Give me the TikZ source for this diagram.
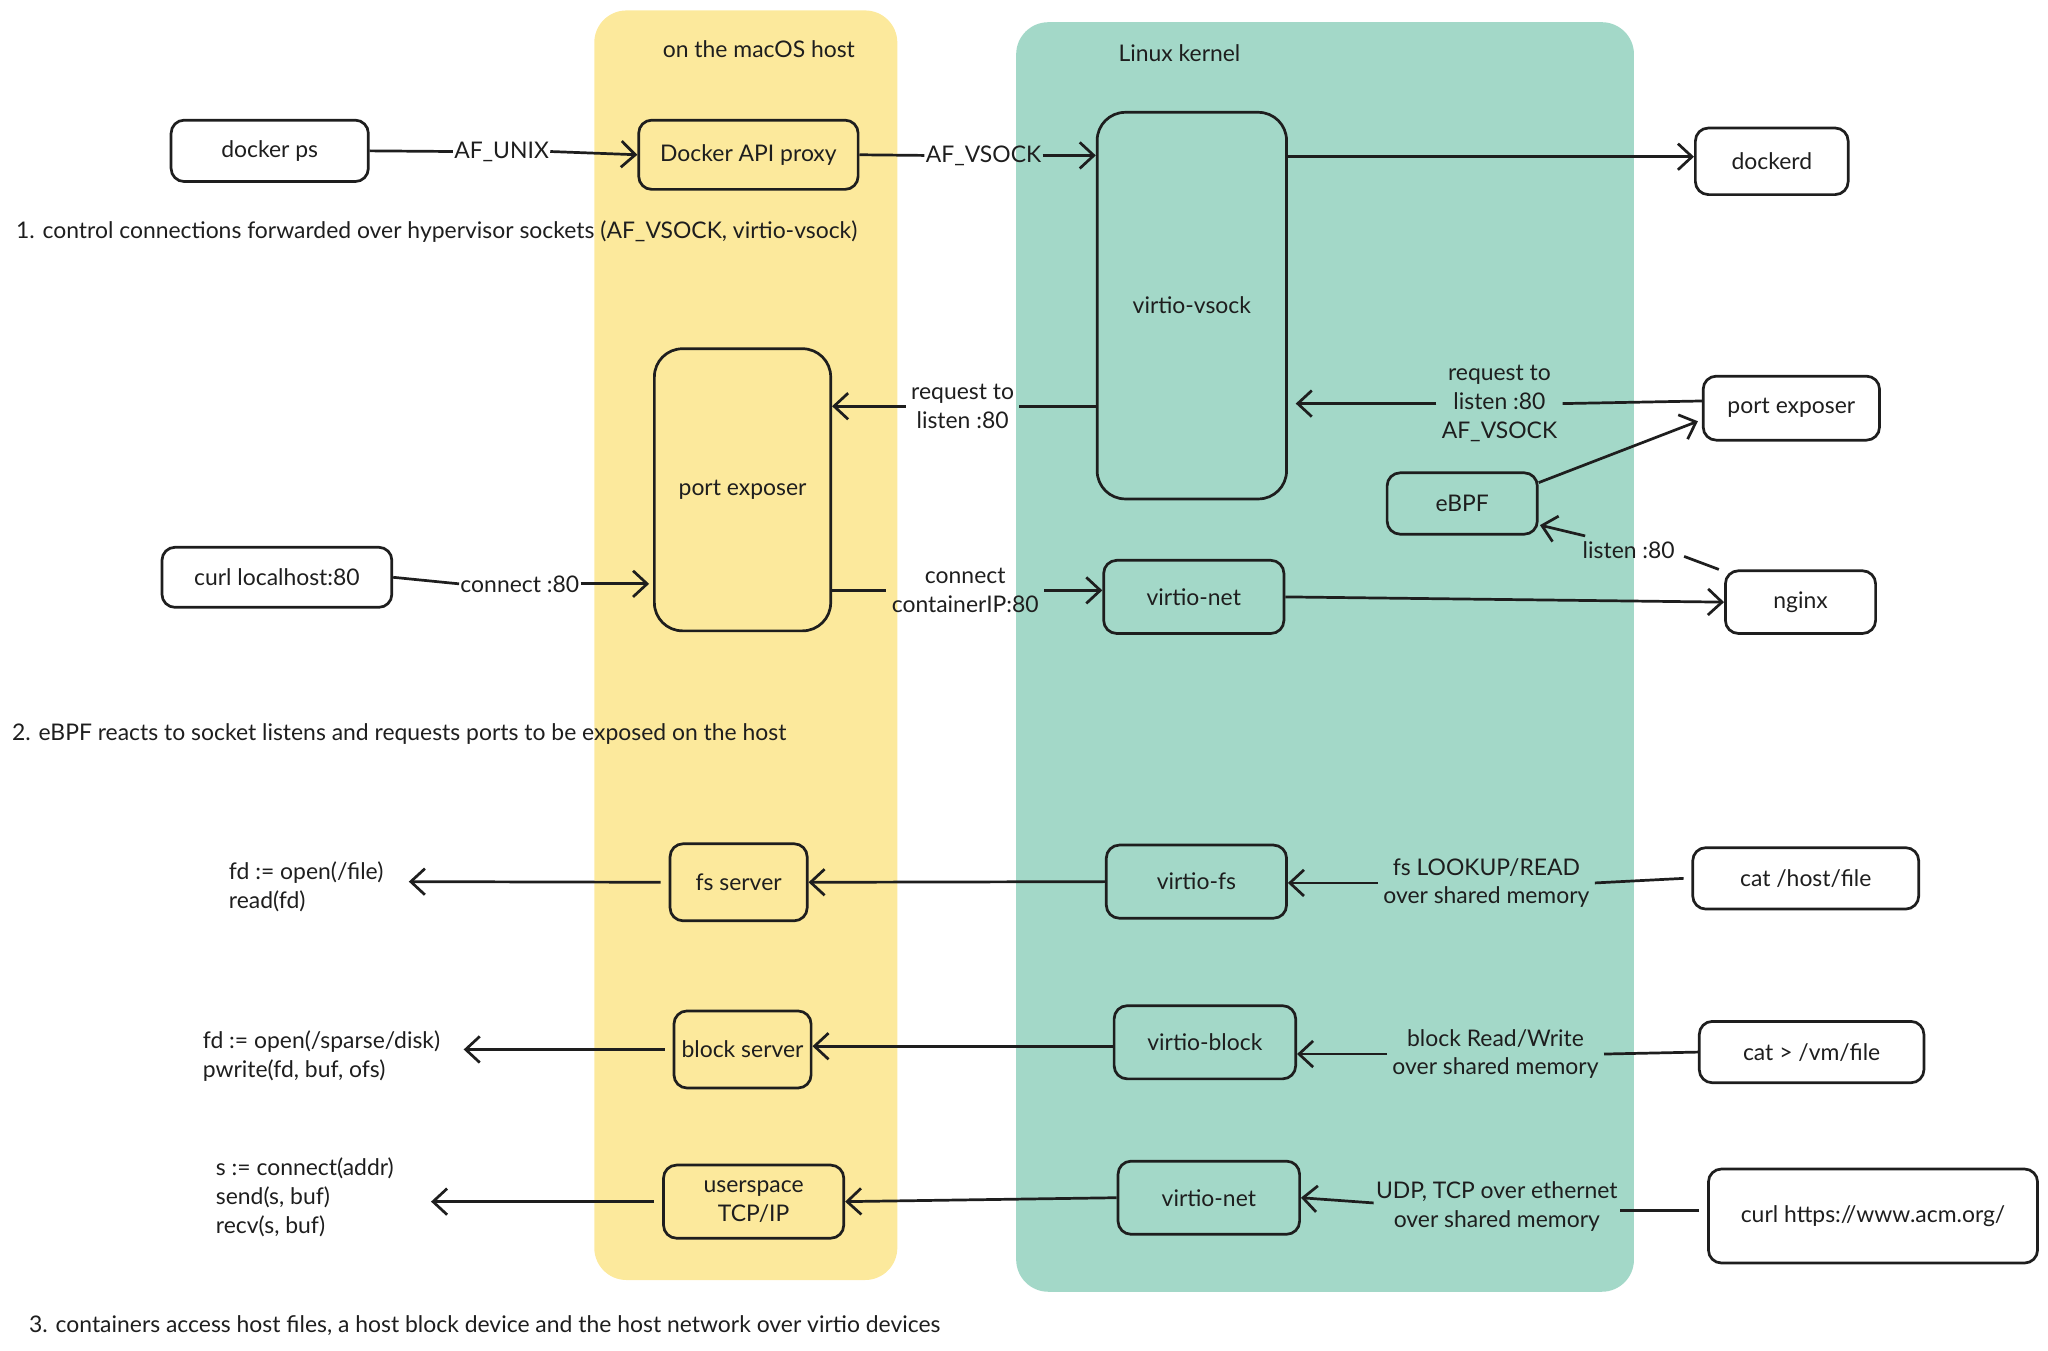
\documentclass[tikz,border=0pt]{standalone}
\usepackage{fontspec}
\setmainfont{Lato}
\usetikzlibrary{arrows.meta,calc}
\definecolor{bandY}{HTML}{FCE99C}
\definecolor{bandT}{HTML}{A3D8C8}
\definecolor{ink}{HTML}{1E1E1E}
\def\U{0.65pt}
\tikzset{
  box/.style={draw=ink, line width=1.35pt, rounded corners=6.5pt, align=center, inner sep=2pt, text=ink},
  bigbox/.style={box, rounded corners=14pt},
  lbl/.style={align=center, inner sep=2.5pt, text=ink},
  txt/.style={align=left, inner sep=0pt, text=ink},
  ln/.style={draw=ink, line width=1.35pt},
  arr/.style={draw=ink, line width=1.35pt, -{Straight Barb[length=7pt,width=13pt,line width=1.35pt]}},
}
\begin{document}
\begin{tikzpicture}[x=0.65pt,y=-0.65pt, font=\fontsize{11.4}{14.3}\selectfont]
\useasboundingbox (0,0) rectangle (1568,1034);
% bands
\fill[bandY, rounded corners=16pt] (455,8) rectangle (687,980);
\fill[bandT, rounded corners=16pt] (778,17) rectangle (1251,989);
\node[lbl] (hostlbl) at (581,38) {on the macOS host};
\node[lbl] (kernlbl) at (903,41) {Linux kernel};

% nodes
\node[box, minimum width=151*\U, minimum height=47*\U] (dps) at (206.5,115.5) {docker ps};
\node[box, fill=bandY, minimum width=168*\U, minimum height=53*\U] (proxy) at (573,118.5) {Docker API proxy};
\node[bigbox, fill=bandT, minimum width=145*\U, minimum height=296*\U] (vsock) at (912.5,234) {virtio-vsock};
\node[box, minimum width=117*\U, minimum height=51*\U] (dockerd) at (1356.5,123.5) {dockerd};
\node[bigbox, fill=bandY, minimum width=135*\U, minimum height=216*\U] (pe1) at (568.5,375) {port exposer};
\node[box, minimum width=135*\U, minimum height=49*\U] (pe2) at (1371.5,312.5) {port exposer};
\node[box, fill=bandT, minimum width=115*\U, minimum height=47*\U] (ebpf) at (1119.5,385.5) {eBPF};
\node[box, minimum width=176*\U, minimum height=46*\U] (curl1) at (212,442) {curl localhost:80};
\node[box, fill=bandT, minimum width=138*\U, minimum height=56*\U] (vnet1) at (914,457) {virtio-net};
\node[box, minimum width=115*\U, minimum height=48*\U] (nginx) at (1378.5,461) {nginx};
\node[box, fill=bandY, minimum width=105*\U, minimum height=59*\U] (fss) at (565.5,675.5) {fs server};
\node[box, fill=bandT, minimum width=138*\U, minimum height=56*\U] (vfs) at (916,675) {virtio-fs};
\node[box, minimum width=173*\U, minimum height=47*\U] (cathost) at (1382.5,672.5) {cat /host/file};
\node[box, fill=bandY, minimum width=105*\U, minimum height=59*\U] (bls) at (568.5,803.5) {block server};
\node[box, fill=bandT, minimum width=139*\U, minimum height=56*\U] (vblk) at (922.5,798) {virtio-block};
\node[box, minimum width=172*\U, minimum height=47*\U] (catvm) at (1387,805.5) {cat > /vm/file};
\node[box, fill=bandY, minimum width=138*\U, minimum height=56*\U] (utcp) at (577,920) {userspace\\TCP/IP};
\node[box, fill=bandT, minimum width=139*\U, minimum height=56*\U] (vnet2) at (925.5,917) {virtio-net};
\node[box, minimum width=252*\U, minimum height=72*\U] (curl2) at (1434,931) {curl https://www.acm.org/};

% free texts
\node[txt, anchor=west] (t1) at (12,177) {1. control connections forwarded over hypervisor sockets (AF\_VSOCK, virtio-vsock)};
\node[txt, anchor=west] (t2) at (9,562) {2. eBPF reacts to socket listens and requests ports to be exposed on the host};
\node[txt, anchor=west] (t3) at (22,1015) {3. containers access host files, a host block device and the host network over virtio devices};
\node[txt, anchor=west] (code1) at (175,679) {fd := open(/file)\\read(fd)};
\node[txt, anchor=west] (code2) at (155,808.5) {fd := open(/sparse/disk)\\pwrite(fd, buf, ofs)};
\node[txt, anchor=west] (code3) at (165,916.5) {s := connect(addr)\\send(s, buf)\\recv(s, buf)};

% edge labels
\node[lbl, inner sep=0.5pt] (lunix) at (384,116) {AF\_UNIX};
\node[lbl, inner sep=0.5pt] (lvsock) at (753,119) {AF\_VSOCK};
\node[lbl] (lreq1) at (737,311) {request to\\listen :80};
\node[lbl] (lreq2) at (1148,309) {request to\\listen :80\\AF\_VSOCK};
\node[lbl] (llisten) at (1247,421) {listen :80};
\node[lbl, inner sep=0.5pt] (lconn) at (398,447) {connect :80};
\node[lbl] (lcip) at (739,452) {connect\\containerIP:80};
\node[lbl] (lfs) at (1138,676) {fs LOOKUP/READ\\over shared memory};
\node[lbl] (lblk) at (1145,807) {block Read/Write\\over shared memory};
\node[lbl, inner sep=1pt] (lnet) at (1146,924) {UDP, TCP over ethernet\\over shared memory};

% connectors
\draw[ln] (dps.east) -- (lunix.west);
\draw[arr] (lunix.east) -- (proxy.west);
\draw[ln] (proxy.east) -- (lvsock.west);
\draw[arr] (lvsock.east) -- (vsock.west |- lvsock);
\draw[arr] (vsock.east |- 0,120) -- (dockerd.west |- 0,120);
\draw[ln] (vsock.west |- lreq1) -- (lreq1.east);
\draw[arr] (lreq1.west) -- (pe1.east |- lreq1);
\draw[ln] (pe2.west |- 0,307) -- (lreq2.east);
\draw[arr] (lreq2.west) -- ($(vsock.east |- lreq2)+(6,0)$);
\draw[arr] ($(ebpf.east)+(0,-16)$) -- ($(pe2.west)+(-3,10)$);
\draw[ln] ($(nginx.north west)+(-4,0)$) -- ($(llisten.east)+(3,5)$);
\draw[arr] ($(llisten.north west)+(6,0)$) -- ($(ebpf.south east)+(1,-8)$);
\draw[ln] (curl1.east) -- (lconn.west);
\draw[arr] (lconn.east) -- ($(pe1.west |- lconn)+(-3,0)$);
\draw[ln] (pe1.east |- lcip) -- (lcip.west);
\draw[arr] (lcip.east) -- (vnet1.west |- lcip);
\draw[arr] (vnet1.east) -- (nginx.west);
\draw[arr] (vfs.west) -- (fss.east);
\draw[ln] ($(cathost.west)+(-6,0)$) -- (lfs.east);
\draw[arr] (lfs.west) -- (vfs.east |- lfs);
\draw[arr] (vblk.west |- 0,801) -- (bls.east |- 0,801);
\draw[ln] (catvm.west) -- (lblk.east);
\draw[arr] (lblk.west) -- (vblk.east |- lblk);
\draw[arr] (vnet2.west) -- (utcp.east);
\draw[ln] ($(curl2.west)+(-6,-4)$) -- ($(lnet.east)+(0,3)$);
\draw[arr] ($(lnet.west)+(0,-3)$) -- (vnet2.east);
\coordinate (c1) at (313,675);
\coordinate (c2) at (355,803.5);
\coordinate (c3) at (330,920);
\draw[arr, shorten <=4pt] (fss.west) -- (c1);
\draw[arr, shorten <=4pt] (bls.west) -- (c2);
\draw[arr, shorten <=4pt] (utcp.west) -- (c3);
\end{tikzpicture}
\end{document}
